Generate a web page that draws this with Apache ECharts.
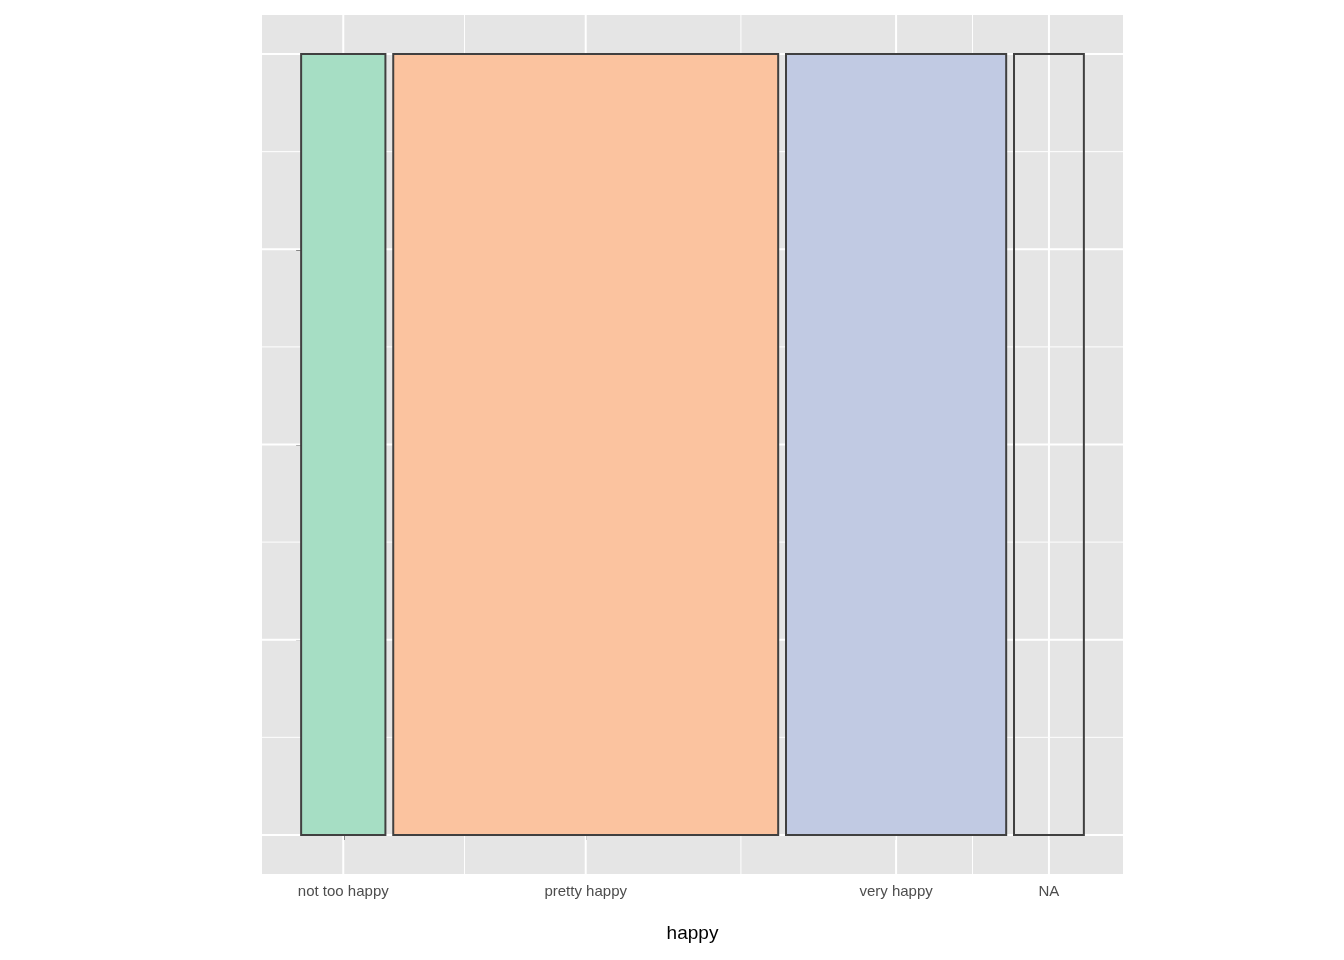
<!DOCTYPE html>
<html lang="en">
<head>
<meta charset="UTF-8">
<title>happy mosaic</title>
<style>
  html, body { margin: 0; background: #fff; }
  #container { width: 1344px; height: 960px; }
</style>
</head>
<body>
<div id="container"></div>
<script src="https://cdn.jsdelivr.net/npm/echarts@6/dist/echarts.min.js"></script>
<script>
var categories = ['not too happy', 'pretty happy', 'very happy', 'NA'];
var shares = [0.111, 0.507, 0.290, 0.092];
var fills = ['#A6DEC4', '#FBC39F', '#C1CAE3', 'rgba(0,0,0,0)'];
var yTicks = [0, 0.25, 0.5, 0.75, 1];

// mosaic layout: widths scaled so bars plus gaps span 0..1
var gap = 0.01;
var scale = (1 - gap * (shares.length - 1)) / shares.reduce(function (a, b) { return a + b; }, 0);
var bars = [], centers = [], x = 0;
shares.forEach(function (s, i) {
  var w = s * scale;
  bars.push([x, x + w, i]);
  centers.push(x + w / 2);
  x += w + gap;
});

var lines = [];
centers.forEach(function (c, i) {
  lines.push(['v', c, 2]);
  if (i < centers.length - 1) lines.push(['v', (c + centers[i + 1]) / 2, 1]);
});
yTicks.forEach(function (t, i) {
  lines.push(['h', t, 2]);
  if (i < yTicks.length - 1) lines.push(['h', (t + yTicks[i + 1]) / 2, 1]);
});

var ec = echarts.init(document.getElementById('container'));
ec.setOption({
  backgroundColor: '#fff',
  animation: false,
  grid: { left: 262, right: 221, top: 15, bottom: 86, show: true, backgroundColor: '#E5E5E5', borderWidth: 0 },
  xAxis: {
    type: 'value', min: -0.05, max: 1.05,
    name: 'happy', nameLocation: 'middle', nameGap: 50,
    nameTextStyle: { color: '#000', fontSize: 19, fontFamily: 'Liberation Sans' },
    axisLine: { show: false },
    splitLine: { show: false },
    axisTick: { show: true, length: 5, lineStyle: { color: '#333', width: 1.5 }, customValues: centers },
    axisLabel: {
      color: '#4D4D4D', fontSize: 15, fontFamily: 'Liberation Sans', margin: 10,
      customValues: centers,
      formatter: function (v) {
        var best = 0;
        centers.forEach(function (c, i) { if (Math.abs(c - v) < Math.abs(centers[best] - v)) best = i; });
        return categories[best];
      }
    }
  },
  yAxis: {
    type: 'value', min: -0.05, max: 1.05,
    axisLine: { show: false },
    splitLine: { show: false },
    axisTick: { show: true, length: 5, lineStyle: { color: '#333', width: 1.5 }, customValues: yTicks },
    axisLabel: { show: false }
  },
  series: [{
    type: 'custom',
    data: lines,
    silent: true,
    z: 1,
    renderItem: function (params, api) {
      var d = lines[params.dataIndex];
      var p1, p2;
      if (d[0] === 'v') { p1 = api.coord([d[1], -0.05]); p2 = api.coord([d[1], 1.05]); }
      else { p1 = api.coord([-0.05, d[1]]); p2 = api.coord([1.05, d[1]]); }
      return { type: 'line', shape: { x1: p1[0], y1: p1[1], x2: p2[0], y2: p2[1] },
        style: { stroke: '#fff', lineWidth: d[2] } };
    }
  }, {
    type: 'custom',
    data: bars,
    z: 2,
    renderItem: function (params, api) {
      var b = bars[params.dataIndex];
      var p0 = api.coord([b[0], 1]);
      var p1 = api.coord([b[1], 0]);
      return { type: 'rect', shape: { x: p0[0], y: p0[1], width: p1[0] - p0[0], height: p1[1] - p0[1] },
        style: { fill: fills[b[2]], stroke: '#404040', lineWidth: 2 } };
    }
  }]
});
</script>
</body>
</html>
